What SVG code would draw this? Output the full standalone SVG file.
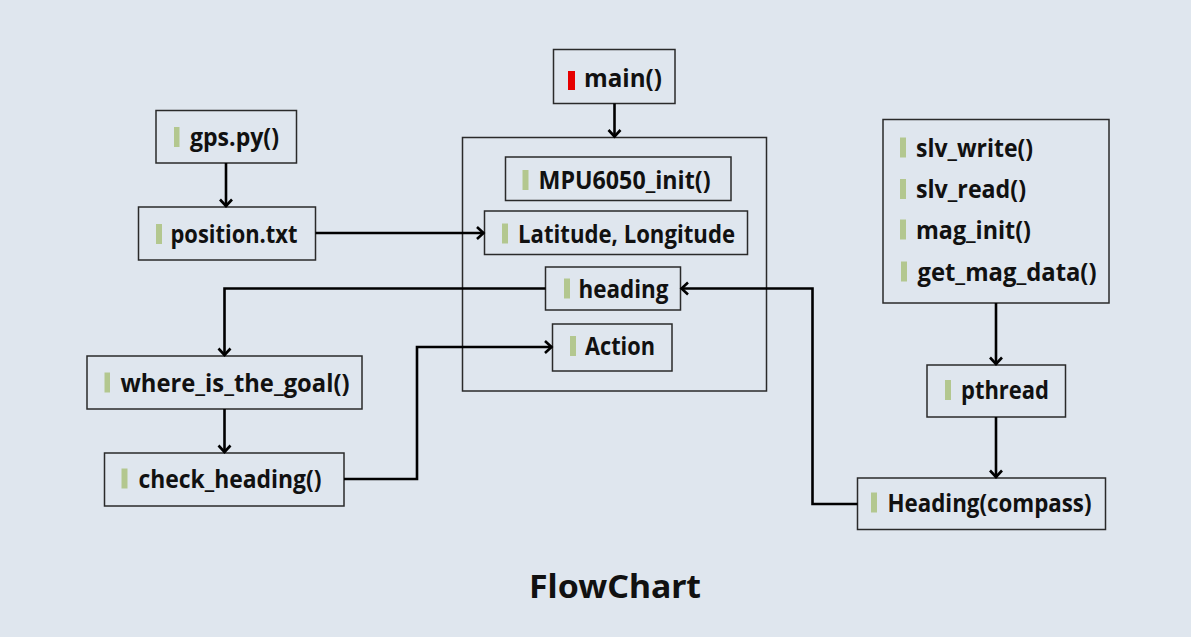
<svg xmlns="http://www.w3.org/2000/svg" width="1191" height="637" viewBox="0 0 1191 637">
<defs>
<marker id="arr" markerUnits="userSpaceOnUse" viewBox="-10 -8 12 16" refX="0" refY="0" markerWidth="12" markerHeight="16" orient="auto">
<path d="M-7,-6 L-0.5,0 L-7,6" fill="none" stroke="#000" stroke-width="2.6"/>
</marker>
<style>
.box{fill:none;stroke:#2a2a2a;stroke-width:1.5}
.t{font-family:"Open Sans","Noto Sans","DejaVu Sans",sans-serif;font-weight:700;font-size:25px;fill:#111}
.bar{fill:#b3c78f}
.red{fill:#e60000}
.c{fill:none;stroke:#000;stroke-width:2.6}
.title{font-family:"Noto Sans","Open Sans",sans-serif;font-weight:700;font-size:31.5px;fill:#111}
</style>
</defs>
<rect width="1191" height="637" fill="#dfe6ee"/>

<g id="container"><rect class="box" x="462.5" y="137.5" width="304" height="253.5"/></g>

<g id="main"><rect class="box" x="553.5" y="49.5" width="121.5" height="54"/><rect class="red" x="568" y="71" width="7" height="19"/><text class="t" x="584" y="86.5" textLength="78" lengthAdjust="spacingAndGlyphs">main()</text></g>

<g id="mpu"><rect class="box" x="505.5" y="157" width="225.5" height="43.5"/><rect class="bar" x="522.5" y="170" width="6" height="20"/><text class="t" x="538.5" y="189" textLength="172" lengthAdjust="spacingAndGlyphs">MPU6050_init()</text></g>

<g id="latlon"><rect class="box" x="484.5" y="211" width="263" height="43.5"/><rect class="bar" x="502" y="223.5" width="6" height="20"/><text class="t" x="518" y="242.5" textLength="217" lengthAdjust="spacingAndGlyphs">Latitude, Longitude</text></g>

<g id="heading"><rect class="box" x="545.5" y="267" width="135" height="43"/><rect class="bar" x="564" y="278.5" width="6" height="20"/><text class="t" x="578.5" y="297.5" textLength="90" lengthAdjust="spacingAndGlyphs">heading</text></g>

<g id="action"><rect class="box" x="552.5" y="324" width="119.5" height="47"/><rect class="bar" x="570" y="336" width="6" height="20"/><text class="t" x="585" y="355" textLength="70" lengthAdjust="spacingAndGlyphs">Action</text></g>

<g id="gps"><rect class="box" x="156" y="110.5" width="140.5" height="52.5"/><rect class="bar" x="174" y="127" width="5.5" height="20"/><text class="t" x="190" y="146" textLength="89" lengthAdjust="spacingAndGlyphs">gps.py()</text></g>

<g id="position"><rect class="box" x="138.5" y="207" width="177" height="53"/><rect class="bar" x="156" y="224" width="6" height="20"/><text class="t" x="170.5" y="243" textLength="127" lengthAdjust="spacingAndGlyphs">position.txt</text></g>

<g id="where"><rect class="box" x="87" y="356" width="275" height="53"/><rect class="bar" x="104.5" y="372.5" width="5.5" height="20"/><text class="t" x="120.5" y="391.5" textLength="229" lengthAdjust="spacingAndGlyphs">where_is_the_goal()</text></g>

<g id="check"><rect class="box" x="104.5" y="453" width="239.5" height="53"/><rect class="bar" x="121.5" y="468.5" width="6" height="20"/><text class="t" x="138.5" y="487.5" textLength="183" lengthAdjust="spacingAndGlyphs">check_heading()</text></g>

<g id="magbox"><rect class="box" x="883" y="119.5" width="226" height="183.5"/>
<rect class="bar" x="900" y="137.5" width="6" height="20"/><text class="t" x="916" y="156.5" textLength="117" lengthAdjust="spacingAndGlyphs">slv_write()</text>
<rect class="bar" x="900" y="179" width="6" height="20"/><text class="t" x="916" y="198" textLength="110" lengthAdjust="spacingAndGlyphs">slv_read()</text>
<rect class="bar" x="900" y="219.5" width="6" height="20"/><text class="t" x="916" y="238.5" textLength="115" lengthAdjust="spacingAndGlyphs">mag_init()</text>
<rect class="bar" x="901" y="261.5" width="6" height="20"/><text class="t" x="917.5" y="280.5" textLength="179" lengthAdjust="spacingAndGlyphs">get_mag_data()</text>
</g>

<g id="pthread"><rect class="box" x="927" y="365" width="138.5" height="52"/><rect class="bar" x="945" y="380" width="6" height="20"/><text class="t" x="961" y="399" textLength="88" lengthAdjust="spacingAndGlyphs">pthread</text></g>

<g id="compass"><rect class="box" x="857.5" y="478" width="248" height="51.5"/><rect class="bar" x="871" y="492.5" width="6" height="20"/><text class="t" x="887.5" y="511.5" textLength="204" lengthAdjust="spacingAndGlyphs">Heading(compass)</text></g>

<g id="connectors">
<path class="c" d="M614.5,103.5 V137" marker-end="url(#arr)"/>
<path class="c" d="M226,163 V206.5" marker-end="url(#arr)"/>
<path class="c" d="M315.5,233 H484" marker-end="url(#arr)"/>
<path class="c" d="M545.5,288.5 H224.5 V355.5" marker-end="url(#arr)"/>
<path class="c" d="M224.5,409 V452.5" marker-end="url(#arr)"/>
<path class="c" d="M344,479 H417 V347 H552" marker-end="url(#arr)"/>
<path class="c" d="M996,303 V364.5" marker-end="url(#arr)"/>
<path class="c" d="M996,417 V477.5" marker-end="url(#arr)"/>
<path class="c" d="M857.5,504 H812.5 V288.5 H681" marker-end="url(#arr)"/>
</g>

<text class="title" x="615" y="598" text-anchor="middle" textLength="172" lengthAdjust="spacingAndGlyphs">FlowChart</text>
</svg>
